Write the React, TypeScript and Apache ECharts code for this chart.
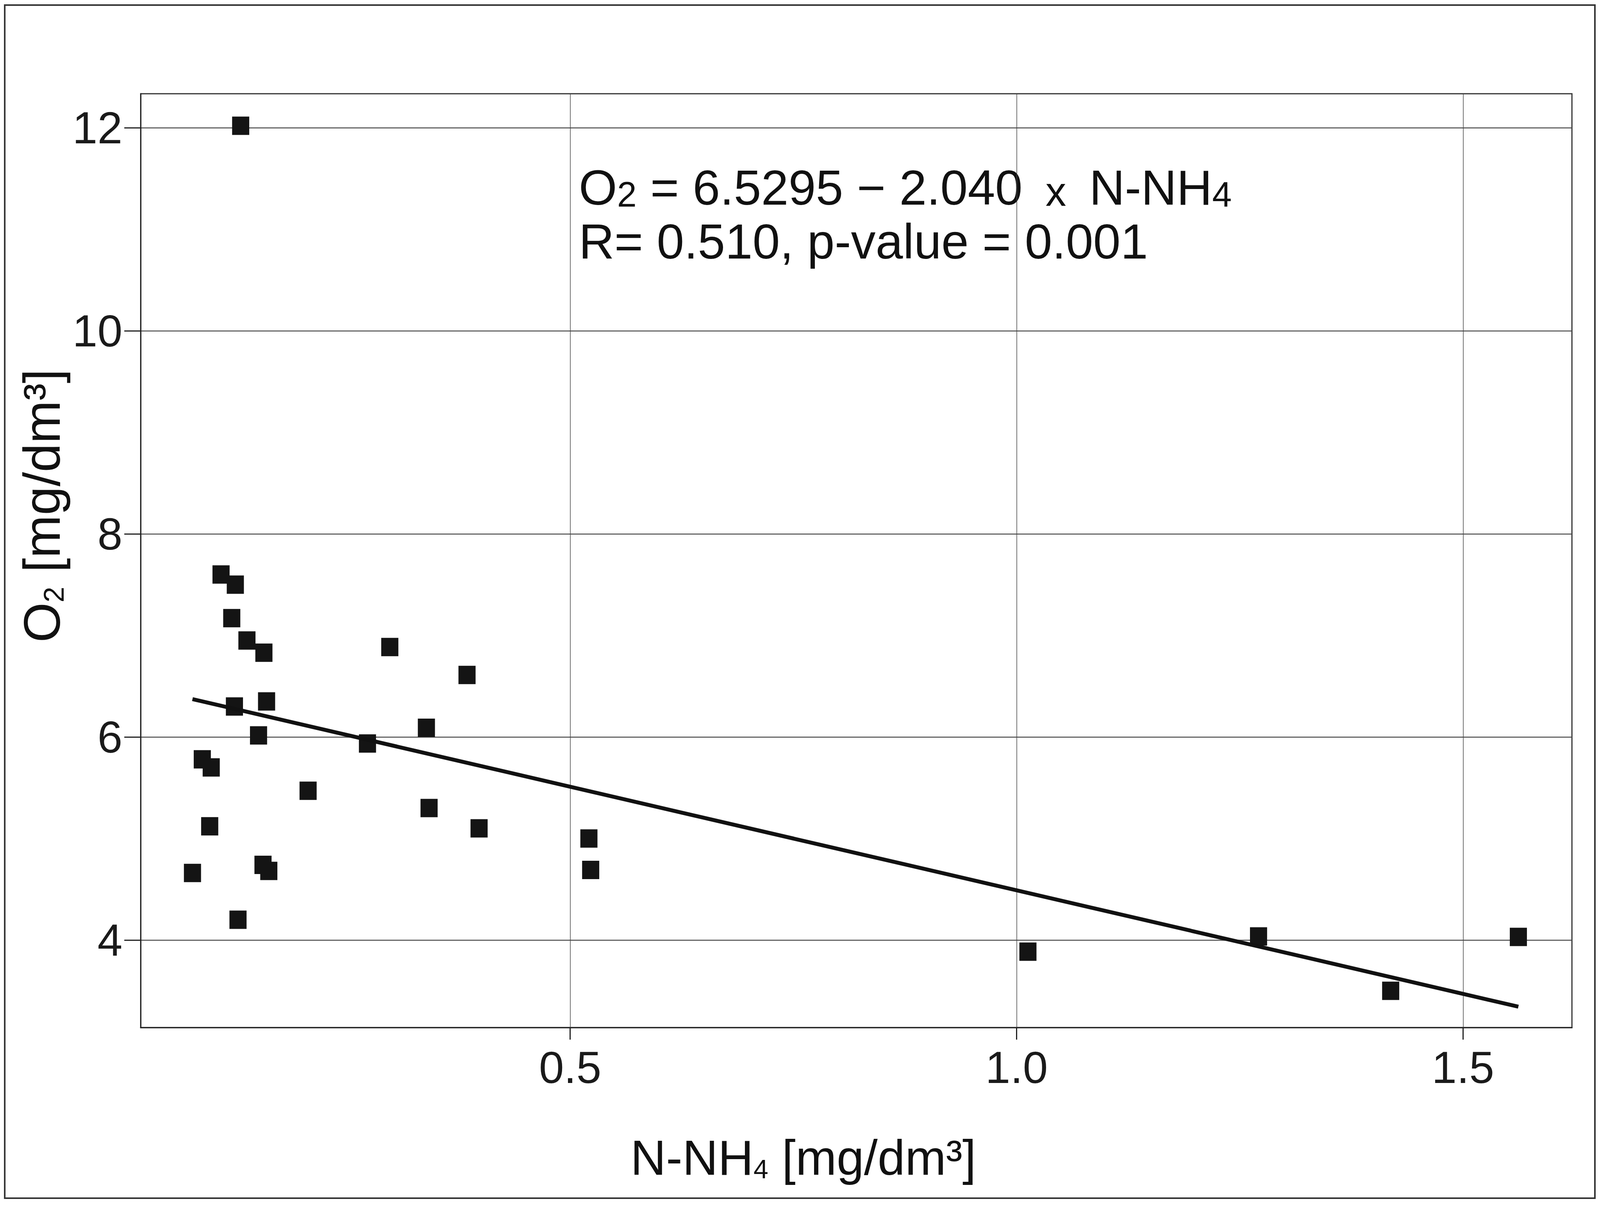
import React, { useEffect, useRef, useState } from "react";
import * as echarts from "echarts";

// N-NH4 [mg/dm3] values (x) and O2 [mg/dm3] values (y)
const nh4 = [
  0.131, 0.109, 0.125, 0.121, 0.138, 0.157, 0.298, 0.3845, 0.124, 0.16,
  0.151, 0.273, 0.339, 0.088, 0.098, 0.2065, 0.342, 0.398, 0.0963, 0.077,
  0.156, 0.1625, 0.128, 0.521, 0.523, 1.0127, 1.271, 1.419, 1.562,
];
const o2 = [
  12.02, 7.6, 7.5, 7.17, 6.95, 6.83, 6.885, 6.61, 6.3, 6.35,
  6.015, 5.935, 6.09, 5.78, 5.7, 5.47, 5.3, 5.1, 5.12, 4.66,
  4.74, 4.68, 4.2, 5.0, 4.69, 3.885, 4.035, 3.5, 4.03,
];

// regression O2 = 6.5295 - 2.040 x N-NH4
const intercept = 6.5295;
const slope = -2.04;

const xTicks = [0.5, 1.0, 1.5];
const yTicks = [4, 6, 8, 10, 12];
const xRange = [0.019, 1.622];
const yRange = [3.138, 12.335];

const FONT = "'Liberation Sans', Arial, sans-serif";
const REF_W = 4390;
const REF_H = 3088;

export default function App() {
  const ref = useRef<HTMLDivElement>(null);
  const [size] = useState(() => ({
    w: Math.min(REF_W, window.innerWidth || REF_W),
    h: Math.min(REF_H, window.innerHeight || REF_H),
  }));
  useEffect(() => {
    document.body.style.margin = "0";
    document.body.style.overflow = "hidden";
    if (!ref.current) return;
    const sx = size.w / REF_W;
    const sy = size.h / REF_H;
    const X = (v: number) => v * sx;
    const Y = (v: number) => v * sy;
    const chart = echarts.init(ref.current, undefined, { renderer: "svg" });
    const pts = nh4.map((x, i) => [x, o2[i]]);
    const xmin = Math.min(...nh4);
    const xmax = Math.max(...nh4);
    const fit = [
      [xmin, intercept + slope * xmin],
      [xmax, intercept + slope * xmax],
    ];
    const base = { fontFamily: FONT, fill: "#111", color: "#111", verticalAlign: "bottom" };
    const rich = {
      a: { ...base, fontSize: 126, lineHeight: 138 },
      s: { ...base, fontSize: 90, lineHeight: 113 },
      x: { ...base, fontSize: 106, lineHeight: 134 },
      t: { ...base, fontSize: 68, lineHeight: 98 },
      b: { ...base, fontSize: 132, lineHeight: 144 },
      u: { ...base, fontSize: 72, lineHeight: 102 },
    };
    const option: any = {
      animation: false,
      backgroundColor: "#ffffff",
      grid: {
        left: X(386),
        right: X(77),
        top: Y(240),
        bottom: Y(457),
        show: true,
        borderColor: "#333",
        borderWidth: 3,
        backgroundColor: "transparent",
      },
      xAxis: {
        type: "value",
        min: xRange[0],
        max: xRange[1],
        axisLine: { show: true, onZero: false, lineStyle: { color: "#222", width: 3 } },
        axisTick: { show: true, length: Y(31), customValues: xTicks, lineStyle: { color: "#222", width: 3 } },
        axisLabel: {
          customValues: xTicks,
          formatter: (v: number) => v.toFixed(1),
          fontSize: 115,
          fontFamily: FONT,
          color: "#1a1a1a",
          margin: Y(44),
        },
        splitLine: { show: true, lineStyle: { color: "#444", width: 1.5 } },
      },
      yAxis: {
        type: "value",
        min: yRange[0],
        max: yRange[1],
        axisLine: { show: true, onZero: false, lineStyle: { color: "#222", width: 3 } },
        axisTick: { show: true, length: X(45), customValues: yTicks, lineStyle: { color: "#222", width: 3 } },
        axisLabel: {
          customValues: yTicks,
          formatter: (v: number) => String(v),
          fontSize: 115,
          fontFamily: FONT,
          color: "#1a1a1a",
          margin: X(50),
        },
        splitLine: { show: true, lineStyle: { color: "#4a4a4a", width: 2.5 } },
      },
      series: [
        {
          type: "scatter",
          data: pts,
          symbol: "rect",
          symbolSize: [X(47), Y(47)],
          itemStyle: { color: "#141414", opacity: 1 },
          z: 3,
        },
        {
          type: "line",
          data: fit,
          showSymbol: false,
          symbol: "none",
          lineStyle: { color: "#111", width: 10 },
          z: 4,
        },
      ],
      graphic: [
        {
          type: "rect",
          silent: true,
          shape: { x: X(13), y: Y(13), width: X(4363), height: Y(3055) },
          style: { fill: "none", stroke: "#333", lineWidth: 4 },
        },
        {
          type: "text",
          silent: true,
          x: X(1588),
          y: Y(405),
          style: {
            text: "{a|O}{s|2}{a| = 6.5295 − 2.040}{x|  x  }{a|N-NH}{s|4}\n{a|R= 0.510, p-value = 0.001}",
            rich,
            textAlign: "left",
            align: "left",
            textVerticalAlign: "top",
            verticalAlign: "top",
          },
        },
        {
          type: "text",
          silent: true,
          x: X(2204),
          y: Y(2958),
          style: {
            text: "{a|N-NH}{t|4}{a| [mg/dm³]}",
            rich,
            textAlign: "center",
            align: "center",
            textVerticalAlign: "middle",
            verticalAlign: "middle",
          },
        },
        {
          type: "text",
          silent: true,
          x: X(109),
          y: Y(1295),
          rotation: Math.PI / 2,
          style: {
            text: "{b|O}{u|2}{b| [mg/dm³]}",
            rich,
            textAlign: "center",
            align: "center",
            textVerticalAlign: "middle",
            verticalAlign: "middle",
          },
        },
      ],
    };
    chart.setOption(option);
    return () => chart.dispose();
  }, [size]);
  return (
    <div
      ref={ref}
      style={{ position: "absolute", left: 0, top: 0, width: size.w, height: size.h, background: "#fff" }}
    />
  );
}
